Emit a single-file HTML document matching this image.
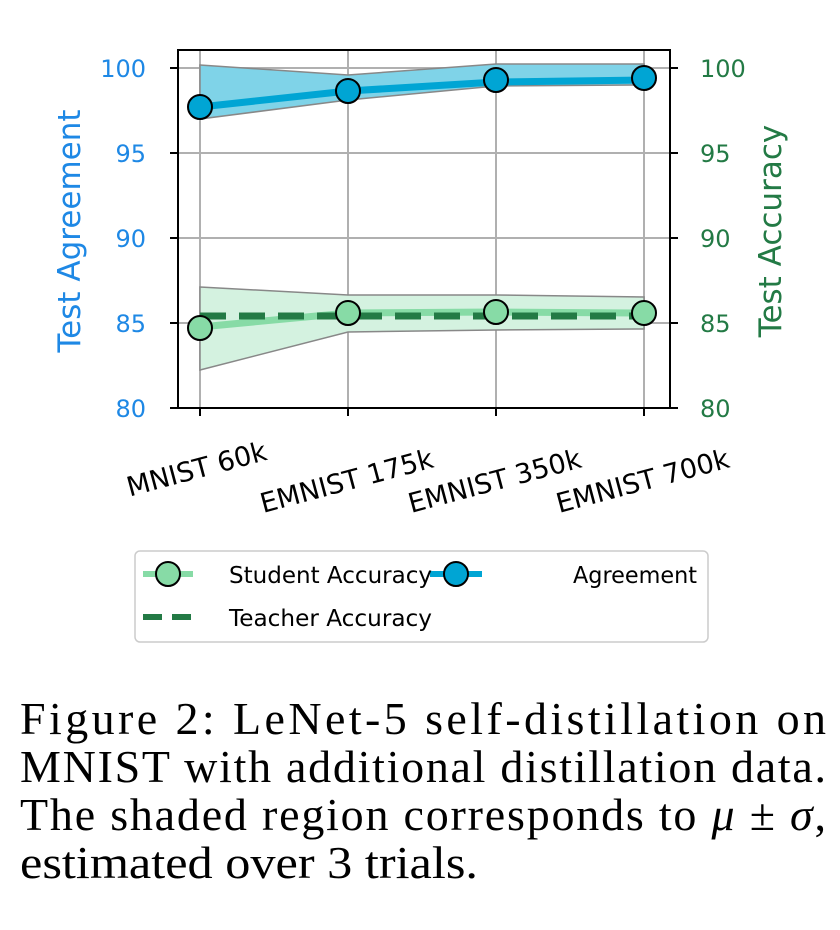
<!DOCTYPE html>
<html><head><meta charset="utf-8"><style>body{margin:0;background:#fff}svg{display:block}</style></head><body>
<svg width="840" height="930" xmlns="http://www.w3.org/2000/svg" font-family="DejaVu Sans, Liberation Sans, sans-serif">
<g stroke="#b0b0b0" stroke-width="2">
<line x1="178" y1="68" x2="670" y2="68"/><line x1="178" y1="153" x2="670" y2="153"/><line x1="178" y1="238" x2="670" y2="238"/><line x1="178" y1="323" x2="670" y2="323"/>
<line x1="200" y1="50" x2="200" y2="408"/><line x1="348" y1="50" x2="348" y2="408"/><line x1="496" y1="50" x2="496" y2="408"/><line x1="644" y1="50" x2="644" y2="408"/>
</g>
<polygon points="200,65 348,75 496,64 644,64 644,85 496,86 348,100 200,119" fill="#7fd3e8" stroke="#888" stroke-width="1.5"/>
<polygon points="200,287 348,295 496,295 644,297 644,329 496,330 348,332 200,370" fill="#d4f2e0" stroke="#888" stroke-width="1.5"/>
<polyline points="200,107 348,91 496,82 644,80" fill="none" stroke="#00a5d4" stroke-width="7"/>
<polyline points="200,327 348,313 496,312 644,313" fill="none" stroke="#87dba6" stroke-width="7"/>
<line x1="200" y1="316" x2="644" y2="316" stroke="#237a45" stroke-width="7" stroke-dasharray="26,13"/>
<g stroke="#000" stroke-width="2">
<circle cx="200" cy="107" r="12" fill="#00a5d4"/><circle cx="348" cy="91" r="12" fill="#00a5d4"/><circle cx="496" cy="80" r="12" fill="#00a5d4"/><circle cx="644" cy="78" r="12" fill="#00a5d4"/>
<circle cx="200" cy="328" r="12" fill="#87dba6"/><circle cx="348" cy="313" r="12" fill="#87dba6"/><circle cx="496" cy="312" r="12" fill="#87dba6"/><circle cx="644" cy="313" r="12" fill="#87dba6"/>
</g>
<rect x="178" y="50" width="492" height="358" fill="none" stroke="#000" stroke-width="2"/>
<g stroke="#000" stroke-width="2">
<line x1="170" y1="68" x2="178" y2="68"/><line x1="170" y1="153" x2="178" y2="153"/><line x1="170" y1="238" x2="178" y2="238"/><line x1="170" y1="323" x2="178" y2="323"/><line x1="170" y1="408" x2="178" y2="408"/>
<line x1="670" y1="68" x2="678" y2="68"/><line x1="670" y1="153" x2="678" y2="153"/><line x1="670" y1="238" x2="678" y2="238"/><line x1="670" y1="323" x2="678" y2="323"/><line x1="670" y1="408" x2="678" y2="408"/>
<line x1="200" y1="408" x2="200" y2="416"/><line x1="348" y1="408" x2="348" y2="416"/><line x1="496" y1="408" x2="496" y2="416"/><line x1="644" y1="408" x2="644" y2="416"/>
</g>
<g fill="#1e88e5" font-size="24" text-anchor="end">
<text x="146" y="77">100</text><text x="146" y="162">95</text><text x="146" y="247">90</text><text x="146" y="332">85</text><text x="146" y="417">80</text>
</g>
<g fill="#237a45" font-size="24">
<text x="700" y="77">100</text><text x="700" y="162">95</text><text x="700" y="247">90</text><text x="700" y="332">85</text><text x="700" y="417">80</text>
</g>
<text transform="translate(80,231) rotate(-90)" text-anchor="middle" font-size="31" fill="#1e88e5">Test Agreement</text>
<text transform="translate(781,231) rotate(-90)" text-anchor="middle" font-size="31" fill="#237a45">Test Accuracy</text>
<g font-size="27" text-anchor="middle" fill="#000">
<text transform="translate(199,478) rotate(-15)">MNIST 60k</text>
<text transform="translate(349,490) rotate(-15)">EMNIST 175k</text>
<text transform="translate(497,490) rotate(-15)">EMNIST 350k</text>
<text transform="translate(645,490) rotate(-15)">EMNIST 700k</text>
</g>
<rect x="135" y="551" width="573" height="91" rx="5" fill="#fff" stroke="#ccc" stroke-width="1.5"/>
<line x1="143" y1="574" x2="193" y2="574" stroke="#87dba6" stroke-width="6"/>
<circle cx="168" cy="574" r="12" fill="#87dba6" stroke="#000" stroke-width="2"/>
<line x1="143" y1="617" x2="193" y2="617" stroke="#237a45" stroke-width="6" stroke-dasharray="19,10"/>
<line x1="430" y1="574" x2="482" y2="574" stroke="#00a5d4" stroke-width="6"/>
<circle cx="456" cy="574" r="12" fill="#00a5d4" stroke="#000" stroke-width="2"/>
<g font-size="23" fill="#000">
<text x="229" y="583" textLength="203" lengthAdjust="spacingAndGlyphs">Student Accuracy</text><text x="229" y="626" textLength="203" lengthAdjust="spacingAndGlyphs">Teacher Accuracy</text><text x="573" y="583" textLength="124" lengthAdjust="spacingAndGlyphs">Agreement</text>
</g>
<g font-family="Liberation Serif, serif" font-size="46" fill="#000">
<text x="20" y="734" textLength="806" lengthAdjust="spacing">Figure 2:  LeNet-5 self-distillation on</text>
<text x="20" y="782" textLength="806" lengthAdjust="spacing">MNIST with additional distillation data.</text>
<text x="20" y="830" textLength="806" lengthAdjust="spacing">The shaded region corresponds to <tspan font-style="italic">μ</tspan> ± <tspan font-style="italic">σ</tspan>,</text>
<text x="20" y="878" textLength="458" lengthAdjust="spacingAndGlyphs">estimated over 3 trials.</text>
</g>
</svg>
</body></html>
